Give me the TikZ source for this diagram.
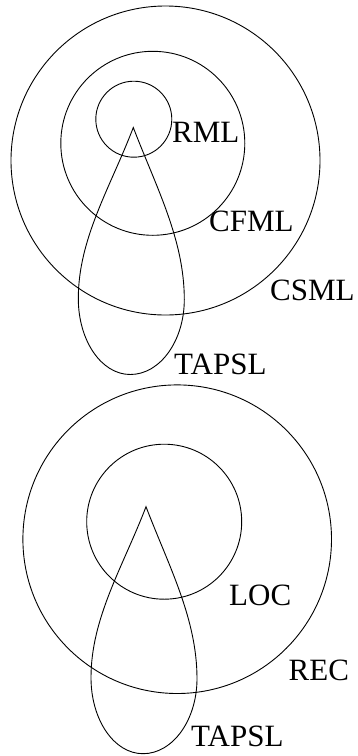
\documentclass[tikz,border=0pt]{standalone}
\usepackage{fontspec}
\setmainfont{Liberation Serif}
\tikzset{
  ring/.style={draw=black, line width=0.9pt},
  lbl/.style={anchor=base west, inner sep=0pt, font=\fontsize{31}{31}\selectfont},
}
\newcommand\dropshape{(0,0) .. controls (-23,60) and (-55,111) .. (-55,171)
  .. controls (-55,213) and (-32,247) .. (-3,247)
  .. controls (27,247) and (51,213) .. (51,172)
  .. controls (51,112) and (23,60) .. (0,0) -- cycle}
\begin{document}
\begin{tikzpicture}[x=1pt, y=-1pt]
\useasboundingbox (0,0) rectangle (357,756);
% top diagram
\draw[ring] (165.5,160.5) circle[radius=154.5pt];
\draw[ring] (152.8,143.3) circle[radius=92pt];
\draw[ring] (133.8,119.2) circle[radius=38pt];
\begin{scope}[shift={(133.3,127.5)}]
\draw[ring, line join=miter] \dropshape;
\end{scope}
\node[lbl] (rml) at (172,142.3) {RML};
\node[lbl] (cfml) at (209,231.7) {CFML};
\node[lbl] (csml) at (270,300.7) {CSML};
\node[lbl] (tapsla) at (174,374) {TAPSL};
% bottom diagram
\draw[ring] (177.2,539.2) circle[radius=154.3pt];
\draw[ring] (164.2,521.7) circle[radius=77.5pt];
\begin{scope}[shift={(146,506.7)}]
\draw[ring, line join=miter] \dropshape;
\end{scope}
\node[lbl] (loc) at (229,605) {LOC};
\node[lbl] (rec) at (288.5,680) {REC};
\node[lbl] (tapslb) at (191,746.5) {TAPSL};
\end{tikzpicture}
\end{document}
